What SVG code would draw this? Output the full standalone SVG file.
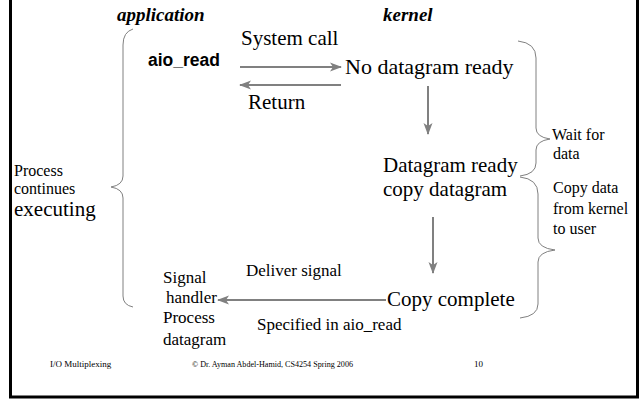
<svg xmlns="http://www.w3.org/2000/svg" width="644" height="399" viewBox="0 0 644 399">
  <style>
    .serif { font-family: "Liberation Serif", "Times New Roman", serif; fill: #000; }
    .head { font-family: "Liberation Serif", serif; font-weight: bold; font-style: italic; font-size: 19px; }
    .xl { font-size: 22px; }
    .big { font-size: 21px; }
    .lbl { font-size: 17px; }
    .note { font-size: 16px; }
    .foot { font-family: "Liberation Serif", serif; font-size: 9px; }
    .arrow { stroke: #808080; stroke-width: 2; fill: none; }
    .brace { stroke: #808080; stroke-width: 1; fill: none; }
  </style>
  <defs>
    <marker id="head" viewBox="0 0 12 10" refX="11" refY="5" markerWidth="6" markerHeight="5" orient="auto" markerUnits="strokeWidth">
      <path d="M0,0.5 L12,5 L0,9.5 L3,5 Z" fill="#808080"/>
    </marker>
  </defs>

  <rect width="644" height="399" fill="#fff"/>
  <!-- slide frame: left, bottom and right edges -->
  <path d="M10.5,0 V397 H637.5 V0" fill="none" stroke="#000" stroke-width="3"/>

  <text class="head" x="117" y="21">application</text>
  <text class="head" x="383" y="21">kernel</text>

  <g id="connectors">
    <line class="arrow" x1="240" y1="67" x2="341" y2="67" marker-end="url(#head)"/>
    <line class="arrow" x1="341" y1="85" x2="240" y2="85" marker-end="url(#head)"/>
    <line class="arrow" x1="428" y1="86" x2="428" y2="134" marker-end="url(#head)"/>
    <line class="arrow" x1="433" y1="217" x2="433" y2="273" marker-end="url(#head)"/>
    <line class="arrow" x1="386" y1="300" x2="218" y2="300" marker-end="url(#head)"/>
  </g>

  <g id="brace-process">
    <path class="brace" d="M133,29 Q123,32 123,45 V176 Q123,185 111,187 Q123,189 123,198 V296 Q123,305 133,307"/>
    <text class="serif note" x="14" y="176">Process</text>
    <text class="serif note" x="14" y="194">continues</text>
    <text class="serif big" x="14" y="216">executing</text>
  </g>

  <g id="brace-wait">
    <path class="brace" d="M518,41 Q536,43 536,58 V128 Q536,137 550,139 Q536,141 536,150 V163 Q536,174 520,176"/>
    <text class="serif note" x="552" y="140">Wait for</text>
    <text class="serif note" x="553" y="159">data</text>
  </g>

  <g id="brace-copy">
    <path class="brace" d="M520,177 Q538,179 538,194 V238 Q538,248 555,250 Q538,252 538,262 V304 Q538,316 520,318"/>
    <text class="serif note" x="553" y="193">Copy data</text>
    <text class="serif note" x="553" y="214">from kernel</text>
    <text class="serif note" x="553" y="234"> to user</text>
  </g>

  <g id="aio-read">
    <text x="148" y="66" font-family="Liberation Sans, Arial, sans-serif" font-weight="bold" font-size="17.5">aio_read</text>
  </g>
  <g id="system-call"><text class="serif big" x="241" y="45">System call</text></g>
  <g id="return"><text class="serif big" x="248" y="109">Return</text></g>
  <g id="no-datagram"><text class="serif xl" x="345" y="74">No datagram ready</text></g>
  <g id="datagram-ready">
    <text class="serif big" x="383" y="172">Datagram ready</text>
    <text class="serif big" x="383" y="196">copy datagram</text>
  </g>
  <g id="copy-complete"><text class="serif big" x="387" y="306">Copy complete</text></g>
  <g id="deliver-signal"><text class="serif lbl" x="246" y="276">Deliver signal</text></g>
  <g id="specified"><text class="serif lbl" x="257" y="330">Specified in aio_read</text></g>
  <g id="signal-handler">
    <text class="serif lbl" x="163" y="283">Signal</text>
    <text class="serif lbl" x="166" y="303">handler</text>
    <text class="serif lbl" x="163" y="323">Process</text>
    <text class="serif lbl" x="163" y="345">datagram</text>
  </g>

  <text class="foot" x="50" y="367">I/O Multiplexing</text>
  <text class="foot" x="192" y="367" style="font-size:8.1px">© Dr. Ayman Abdel-Hamid, CS4254 Spring 2006</text>
  <text class="foot" x="474" y="367">10</text>
</svg>
